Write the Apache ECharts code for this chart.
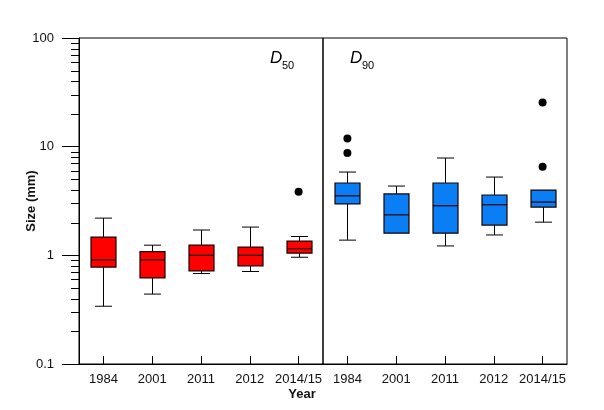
<!DOCTYPE html>
<html>
<head>
<meta charset="utf-8">
<script src="https://cdn.jsdelivr.net/npm/echarts@6/dist/echarts.min.js"></script>
<style>
html,body{margin:0;padding:0;background:#fff;}
#c{width:604px;height:410px;}
</style>
</head>
<body>
<div id="c"></div>
<script>
const years = ['1984', '2001', '2011', '2012', '2014/15'];
const yTicks = [0.1, 1, 10, 100];

const d50Min = [0.34, 0.44, 0.68, 0.71, 0.96];
const d50Q1  = [0.78, 0.62, 0.72, 0.80, 1.05];
const d50Med = [0.91, 0.91, 1.00, 1.00, 1.15];
const d50Q3  = [1.47, 1.08, 1.24, 1.19, 1.35];
const d50Max = [2.20, 1.24, 1.71, 1.82, 1.49];
const d50Outliers = [[4, 3.85]];

const d90Min = [1.38, 1.60, 1.22, 1.54, 2.02];
const d90Q1  = [2.98, 1.60, 1.60, 1.90, 2.78];
const d90Med = [3.53, 2.36, 2.86, 2.92, 3.09];
const d90Q3  = [4.63, 3.67, 4.63, 3.59, 3.99];
const d90Max = [5.84, 4.34, 7.86, 5.25, 3.99];
const d90Outliers = [[0, 11.9], [0, 8.74], [4, 6.53], [4, 25.5]];

const minorTickValues = [];
[0.1, 1, 10].forEach(function (d) {
  for (let k = 2; k <= 9; k++) minorTickValues.push(+(d * k).toPrecision(3));
});

function boxData(mn, q1, md, q3, mx) {
  return years.map(function (_, i) { return [i, mn[i], q1[i], md[i], q3[i], mx[i]]; });
}

const FONT = 'Liberation Sans, Arial, sans-serif';

function boxRender(fill) {
  return function (params, api) {
    const x = api.value(0);
    const pMin = api.coord([x, api.value(1)]);
    const pQ1 = api.coord([x, api.value(2)]);
    const pMed = api.coord([x, api.value(3)]);
    const pQ3 = api.coord([x, api.value(4)]);
    const pMax = api.coord([x, api.value(5)]);
    const cx = Math.round(pMin[0]) + 0.5;
    const bw = 25, cw = 17;
    const ls = { stroke: '#000', lineWidth: 1 };
    const children = [];
    if (pMin[1] - pQ1[1] > 0.5) {
      children.push({ type: 'line', shape: { x1: cx, y1: pQ1[1], x2: cx, y2: pMin[1] }, style: ls });
      children.push({ type: 'line', shape: { x1: cx - cw / 2, y1: pMin[1], x2: cx + cw / 2, y2: pMin[1] }, style: ls });
    }
    if (pQ3[1] - pMax[1] > 0.5) {
      children.push({ type: 'line', shape: { x1: cx, y1: pMax[1], x2: cx, y2: pQ3[1] }, style: ls });
      children.push({ type: 'line', shape: { x1: cx - cw / 2, y1: pMax[1], x2: cx + cw / 2, y2: pMax[1] }, style: ls });
    }
    children.push({ type: 'rect', shape: { x: cx - bw / 2, y: pQ3[1], width: bw, height: pQ1[1] - pQ3[1] },
      style: { fill: fill, stroke: '#1a0000', lineWidth: 1.2 } });
    children.push({ type: 'line', shape: { x1: cx - bw / 2, y1: pMed[1], x2: cx + bw / 2, y2: pMed[1] }, style: { stroke: '#1a0000', lineWidth: 1.2 } });
    return { type: 'group', children: children };
  };
}

function xAxisCfg(gi) {
  return {
    type: 'category', gridIndex: gi, data: years, boundaryGap: true,
    axisLine: { show: true, lineStyle: { color: '#000', width: 1 } },
    axisTick: { show: true, inside: true, length: 8, alignWithLabel: true, interval: 0, lineStyle: { color: '#000' } },
    axisLabel: { show: true, interval: 0, margin: 9, color: '#111', fontSize: 13, fontFamily: FONT },
    splitLine: { show: false }
  };
}

const chart = echarts.init(document.getElementById('c'), null, { renderer: 'canvas' });
chart.setOption({
  animation: false,
  backgroundColor: '#fff',
  grid: [
    { left: 79, top: 38, width: 244, height: 326, show: true, borderColor: '#000', borderWidth: 1, backgroundColor: 'transparent' },
    { left: 323, top: 38, width: 244, height: 326, show: true, borderColor: '#000', borderWidth: 1, backgroundColor: 'transparent' }
  ],
  xAxis: [xAxisCfg(0), xAxisCfg(1)],
  yAxis: [
    {
      type: 'log', gridIndex: 0, logBase: 10, min: yTicks[0], max: yTicks[yTicks.length - 1], splitNumber: 3,
      name: 'Size (mm)', nameLocation: 'middle', nameGap: 41, nameRotate: 90, nameMoveOverlap: false,
      nameTextStyle: { fontWeight: 'bold', fontSize: 13, color: '#111', fontFamily: FONT },
      axisLine: { show: true, lineStyle: { color: '#000' } },
      axisTick: { show: true, inside: false, length: 17, lineStyle: { color: '#000' } },
      minorTick: { show: false },
      axisLabel: { margin: 25, fontSize: 13, color: '#111', fontFamily: FONT,
        formatter: function (v) { return String(+v.toPrecision(3)); } },
      splitLine: { show: false }
    },
    {
      type: 'log', gridIndex: 1, logBase: 10, min: yTicks[0], max: yTicks[yTicks.length - 1], splitNumber: 3,
      axisLine: { show: false }, axisTick: { show: false }, axisLabel: { show: false }, splitLine: { show: false }
    }
  ],
  series: [
    {
      type: 'custom', xAxisIndex: 0, yAxisIndex: 0, clip: false, silent: true,
      data: minorTickValues.map(function (v) { return [0, v]; }),
      encode: { x: 0, y: 1 },
      renderItem: function (params, api) {
        const cs = params.coordSys;
        const y = Math.round(api.coord([0, api.value(1)])[1]) + 0.5;
        return { type: 'line', shape: { x1: cs.x - 8, y1: y, x2: cs.x, y2: y }, style: { stroke: '#000', lineWidth: 1 } };
      }
    },
    {
      name: 'D50', type: 'custom', xAxisIndex: 0, yAxisIndex: 0, silent: true,
      data: boxData(d50Min, d50Q1, d50Med, d50Q3, d50Max),
      encode: { x: 0, y: [1, 2, 3, 4, 5] },
      renderItem: boxRender('#ff0000')
    },
    {
      name: 'D90', type: 'custom', xAxisIndex: 1, yAxisIndex: 1, silent: true,
      data: boxData(d90Min, d90Q1, d90Med, d90Q3, d90Max),
      encode: { x: 0, y: [1, 2, 3, 4, 5] },
      renderItem: boxRender('#0a7ff5')
    },
    {
      type: 'scatter', xAxisIndex: 0, yAxisIndex: 0, silent: true, symbol: 'circle', symbolSize: 8,
      itemStyle: { color: '#000', opacity: 1 }, data: d50Outliers
    },
    {
      type: 'scatter', xAxisIndex: 1, yAxisIndex: 1, silent: true, symbol: 'circle', symbolSize: 8,
      itemStyle: { color: '#000', opacity: 1 }, data: d90Outliers
    }
  ],
  graphic: [
    { type: 'text', left: 270, top: 50, style: { text: 'D', font: 'italic 17px ' + FONT, fill: '#000' } },
    { type: 'text', left: 282, top: 60, style: { text: '50', font: '11px ' + FONT, fill: '#000' } },
    { type: 'text', left: 350, top: 50, style: { text: 'D', font: 'italic 17px ' + FONT, fill: '#000' } },
    { type: 'text', left: 362, top: 60, style: { text: '90', font: '11px ' + FONT, fill: '#000' } },
    { type: 'text', left: 'center', top: 388, style: { text: 'Year', font: 'bold 13px ' + FONT, fill: '#111', x: 0 } }
  ]
});
</script>
</body>
</html>
